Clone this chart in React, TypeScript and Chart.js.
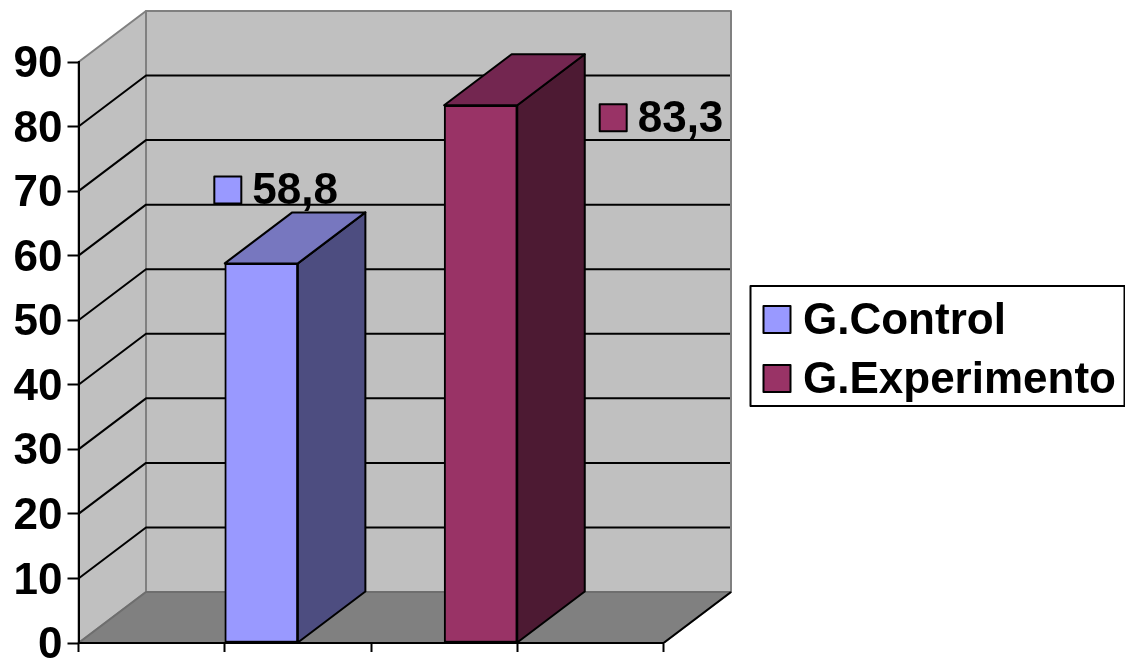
import React, { useEffect, useRef } from "react";
import { Chart, registerables } from "chart.js";

Chart.register(...registerables);

const categories = ["", "", "", ""];
const controlValues = [null, 58.8, null, null];
const experimentValues = [null, null, 83.3, null];
const seriesNames = ["G.Control", "G.Experimento"];
const valueLabels = ["58,8", "83,3"];
const yTicks = [0, 10, 20, 30, 40, 50, 60, 70, 80, 90];

const FONT = '"Liberation Sans", Arial, sans-serif';
const TEXT_FONT = `bold 44px ${FONT}`;
const DEPTH_X = 67.5;
const DEPTH_Y = 51;
const LINE = 2;

const front = ["#9999FF", "#993366"];
const topFace = ["#7777BF", "#732650"];
const sideFace = ["#4D4D80", "#4D1A33"];

// Position of each value's key relative to the top-centre of its bar.
const labelOffsets = [
  { x: -47, y: -87 },
  { x: 119, y: -1 },
];

function poly(ctx: CanvasRenderingContext2D, pts: number[][], fill: string | null, stroke: string | null, lw = LINE) {
  ctx.beginPath();
  pts.forEach(([x, y], i) => (i ? ctx.lineTo(x, y) : ctx.moveTo(x, y)));
  ctx.closePath();
  if (fill) {
    ctx.fillStyle = fill;
    ctx.fill();
  }
  if (stroke) {
    ctx.strokeStyle = stroke;
    ctx.lineWidth = lw;
    ctx.lineJoin = "round";
    ctx.stroke();
  }
}

function key(ctx: CanvasRenderingContext2D, x: number, y: number, color: string) {
  ctx.fillStyle = color;
  ctx.strokeStyle = "#000";
  ctx.lineWidth = LINE;
  ctx.fillRect(x, y, 27, 27);
  ctx.strokeRect(x, y, 27, 27);
}

// Back wall, side wall, floor and the gridlines that wrap around them.
const wallsPlugin = {
  id: "walls",
  beforeDraw(chart: any) {
    const { ctx } = chart;
    const { x, y } = chart.scales;
    const l = x.left;
    const r = x.right;
    const b = y.getPixelForValue(0);
    const t = y.getPixelForValue(90);
    ctx.save();
    ctx.fillStyle = "#fff";
    ctx.fillRect(0, 0, chart.width, chart.height);
    poly(ctx, [[l + DEPTH_X, t - DEPTH_Y], [r + DEPTH_X, t - DEPTH_Y], [r + DEPTH_X, b - DEPTH_Y], [l + DEPTH_X, b - DEPTH_Y]], "#C0C0C0", "#808080", 2);
    poly(ctx, [[l, t], [l + DEPTH_X, t - DEPTH_Y], [l + DEPTH_X, b - DEPTH_Y], [l, b]], "#C0C0C0", "#808080", 2);
    poly(ctx, [[l, b], [l + DEPTH_X, b - DEPTH_Y], [r + DEPTH_X, b - DEPTH_Y], [r, b]], "#808080", "#6E6E6E", 2);
    ctx.strokeStyle = "#000";
    ctx.lineWidth = LINE;
    ctx.beginPath();
    ctx.moveTo(r, b);
    ctx.lineTo(r + DEPTH_X, b - DEPTH_Y);
    ctx.stroke();
    yTicks.slice(1, -1).forEach((v) => {
      const py = y.getPixelForValue(v);
      ctx.beginPath();
      ctx.moveTo(l, py);
      ctx.lineTo(l + DEPTH_X, py - DEPTH_Y);
      ctx.lineTo(r + DEPTH_X - 1, py - DEPTH_Y);
      ctx.stroke();
    });
    ctx.restore();
  },
};

// Side and top faces of each bar, its value label, and the boxed legend.
const facesPlugin = {
  id: "faces",
  afterDatasetsDraw(chart: any) {
    const { ctx } = chart;
    ctx.save();
    chart.data.datasets.forEach((ds: any, i: number) => {
      const idx = ds.data.findIndex((v: number | null) => v !== null);
      const bar = chart.getDatasetMeta(i).data[idx];
      const { x, y, base, width } = bar.getProps(["x", "y", "base", "width"], true);
      const l = x - width / 2;
      const r = x + width / 2;
      poly(ctx, [[r, y], [r + DEPTH_X, y - DEPTH_Y], [r + DEPTH_X, base - DEPTH_Y], [r, base]], sideFace[i], "#000");
      poly(ctx, [[l, y], [l + DEPTH_X, y - DEPTH_Y], [r + DEPTH_X, y - DEPTH_Y], [r, y]], topFace[i], "#000");

      const kx = x + labelOffsets[i].x;
      const ky = y + labelOffsets[i].y;
      key(ctx, kx, ky, front[i]);
      ctx.fillStyle = "#000";
      ctx.font = TEXT_FONT;
      ctx.textAlign = "left";
      ctx.textBaseline = "alphabetic";
      ctx.fillText(valueLabels[i], kx + 38, ky + 28);
    });

    ctx.fillStyle = "#fff";
    ctx.fillRect(750.5, 286, 374, 120);
    ctx.strokeStyle = "#000";
    ctx.lineWidth = LINE;
    ctx.strokeRect(750.5, 286, 374, 120);
    seriesNames.forEach((name, i) => {
      const rowY = 306 + i * 59;
      key(ctx, 763.5, rowY, front[i]);
      ctx.fillStyle = "#000";
      ctx.font = TEXT_FONT;
      ctx.textAlign = "left";
      ctx.textBaseline = "alphabetic";
      ctx.fillText(name, 803, rowY + 28);
    });
    ctx.restore();
  },
};

export default function App() {
  const ref = useRef<HTMLCanvasElement>(null);

  useEffect(() => {
    document.body.style.margin = "0";
    const chart = new Chart(ref.current!, {
      type: "bar",
      data: {
        labels: categories,
        datasets: [
          { label: seriesNames[0], data: controlValues, backgroundColor: front[0], borderColor: "#000", borderWidth: LINE, borderSkipped: false },
          { label: seriesNames[1], data: experimentValues, backgroundColor: front[1], borderColor: "#000", borderWidth: LINE, borderSkipped: false },
        ],
      } as any,
      options: {
        animation: false,
        responsive: false,
        layout: { padding: { top: 62, right: 461.5, left: 0, bottom: 0 } },
        plugins: { legend: { display: false }, tooltip: { enabled: false }, title: { display: false } },
        datasets: { bar: { barPercentage: 1, categoryPercentage: 1 } },
        scales: {
          x: {
            afterFit: (s: any) => { s.height = 17; },
            grid: { drawOnChartArea: false, drawTicks: true, tickLength: 9, tickColor: "#000", tickWidth: 2 },
            border: { color: "#000", width: 2, z: 2 },
            ticks: { display: false },
          },
          y: {
            min: 0,
            max: 90,
            afterFit: (s: any) => {
              s.width = 78.5;
              s.paddingTop = 0;
              s.paddingBottom = 0;
            },
            grid: { drawOnChartArea: false, tickLength: 11, tickColor: "#000", tickWidth: 2 },
            border: { color: "#000", width: 2 },
            afterBuildTicks: (s: any) => { s.ticks = yTicks.map((value) => ({ value })); },
            ticks: { color: "#000", font: { family: FONT, size: 44, weight: "bold" }, padding: 5, labelOffset: 3, autoSkip: false, maxRotation: 0 },
          },
        },
      } as any,
      plugins: [wallsPlugin, facesPlugin],
    });
    return () => chart.destroy();
  }, []);

  return <canvas ref={ref} width={1125} height={660} style={{ display: "block" }} />;
}
